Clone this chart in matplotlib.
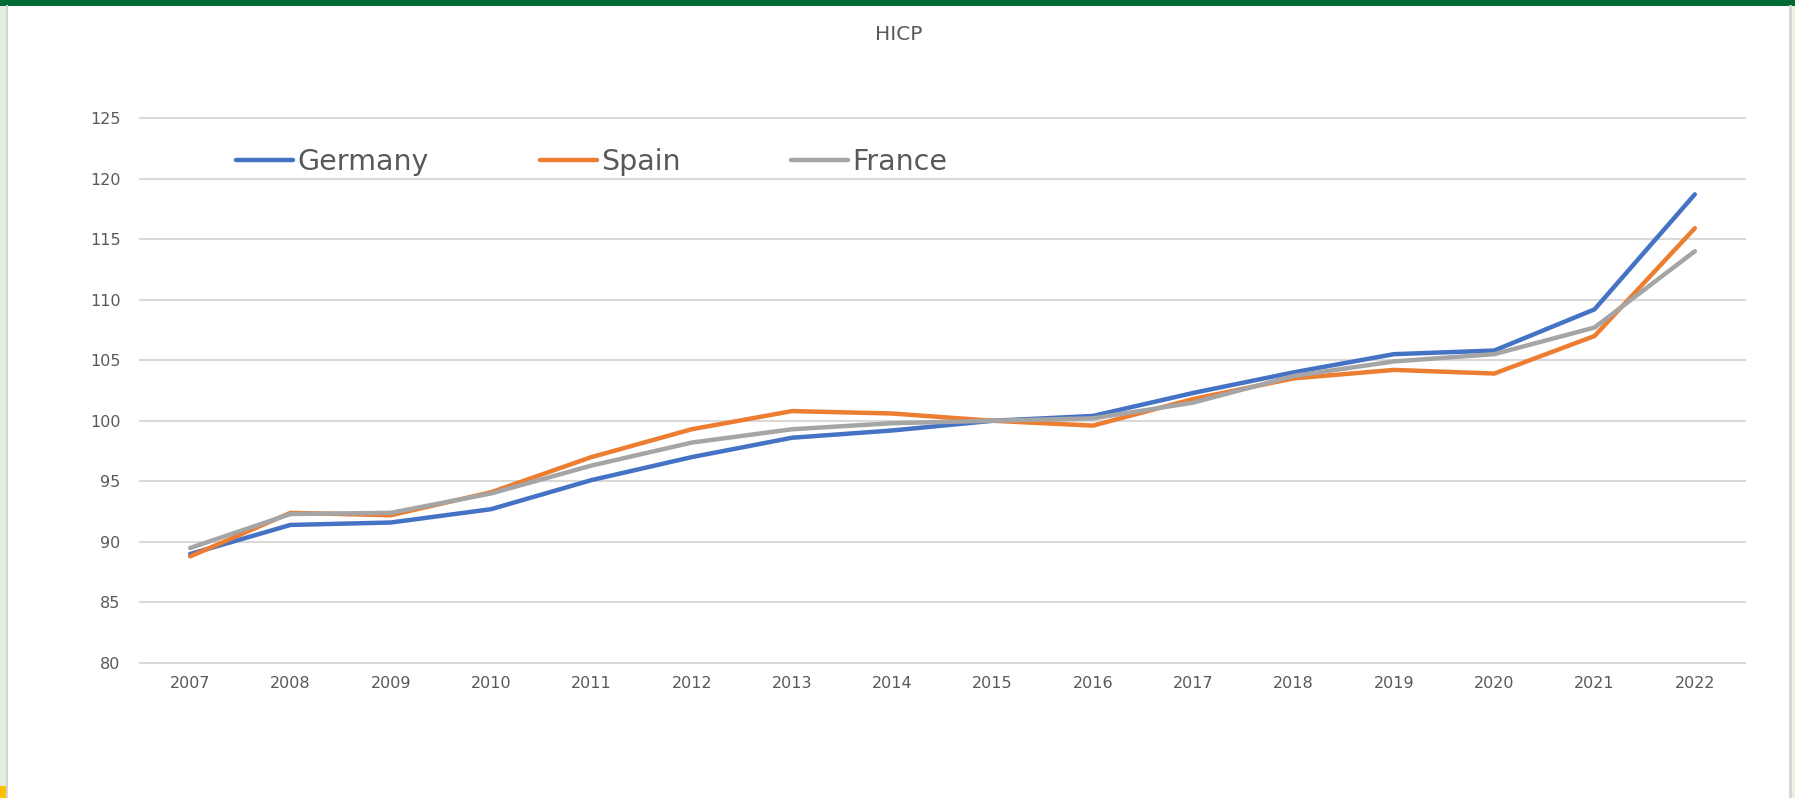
import matplotlib
matplotlib.use("Agg")
import matplotlib.pyplot as plt
from matplotlib.patches import Rectangle
from matplotlib.lines import Line2D

# ---- data ----
years = ["2007", "2008", "2009", "2010", "2011", "2012", "2013", "2014",
         "2015", "2016", "2017", "2018", "2019", "2020", "2021", "2022"]
germany = [89.0, 91.4, 91.6, 92.7, 95.1, 97.0, 98.6, 99.2,
           100.0, 100.4, 102.3, 104.0, 105.5, 105.8, 109.2, 118.7]
spain = [88.8, 92.4, 92.2, 94.1, 97.0, 99.3, 100.8, 100.6,
         100.0, 99.6, 101.8, 103.5, 104.2, 103.9, 107.0, 115.9]
france = [89.5, 92.3, 92.4, 94.0, 96.3, 98.2, 99.3, 99.8,
          100.0, 100.2, 101.5, 103.7, 104.9, 105.5, 107.7, 114.0]
series_names = ["Germany", "Spain", "France"]
y_ticks = [80, 85, 90, 95, 100, 105, 110, 115, 120, 125]
title = "HICP"

colors = ["#4472C4", "#ED7D31", "#A5A5A5"]
text_color = "#595959"
grid_color = "#D9D9D9"

plt.rcParams['font.family'] = ['DejaVu Sans']

W, H = 1795, 798
fig = plt.figure(figsize=(W / 100, H / 100), dpi=100)
fig.patch.set_facecolor("white")

# frame decorations (screenshot edges)
fig.add_artist(Rectangle((0, 1 - 6 / H), 1, 6 / H, transform=fig.transFigure,
                         facecolor="#006A35", edgecolor="none"))
fig.add_artist(Rectangle((0, 0), 6 / W, 1 - 6 / H, transform=fig.transFigure,
                         facecolor="#E3EFDA", edgecolor="none"))
fig.add_artist(Line2D([7 / W, 7 / W], [0, 1 - 6 / H], transform=fig.transFigure,
                      color="#D4D4D4", linewidth=1.5))
fig.add_artist(Rectangle((1791 / W, 0), 4 / W, 1 - 6 / H, transform=fig.transFigure,
                         facecolor="#E8F2E0", edgecolor="none"))
fig.add_artist(Line2D([1790 / W, 1790 / W], [0, 1 - 6 / H], transform=fig.transFigure,
                      color="#D4D4D4", linewidth=2))
fig.add_artist(Rectangle((0, 0), 6 / W, 12 / H, transform=fig.transFigure,
                         facecolor="#FFC000", edgecolor="none"))

left, right = 140 / W, 1745 / W
bottom, top = 1 - 663 / H, 1 - 118 / H
ax = fig.add_axes([left, bottom, right - left, top - bottom])

x = list(range(len(years)))
for vals, name, c in zip([germany, spain, france], series_names, colors):
    ax.plot(x, vals, color=c, linewidth=3.2, label=name,
            solid_capstyle="round", solid_joinstyle="round", zorder=3)

ax.set_xlim(-0.5, len(years) - 0.5)
ax.set_ylim(80, 125)
ax.set_xticks(x)
ax.set_xticklabels(years)
ax.set_yticks(y_ticks)
ax.set_yticklabels([str(v) for v in y_ticks])
ax.tick_params(axis="both", length=0, labelsize=11.5, labelcolor=text_color)
ax.tick_params(axis="y", pad=14)
ax.tick_params(axis="x", pad=9)
for s in ax.spines.values():
    s.set_visible(False)
ax.yaxis.grid(True, color=grid_color, linewidth=1.5)
ax.set_axisbelow(True)
for gl in ax.get_ygridlines():
    gl.set_clip_on(False)

leg = fig.legend(loc="center left", bbox_to_anchor=(236 / W, 1 - 162 / H),
                 ncol=3, frameon=False, fontsize=20.5, handlelength=2.0,
                 handletextpad=0.15, columnspacing=3.9, borderpad=0,
                 borderaxespad=0)
for t in leg.get_texts():
    t.set_color(text_color)

fig.text(899 / W, 1 - 34 / H, title, ha="center", va="center",
         fontsize=14.5, color=text_color)

fig.savefig("out.png", dpi=100)
